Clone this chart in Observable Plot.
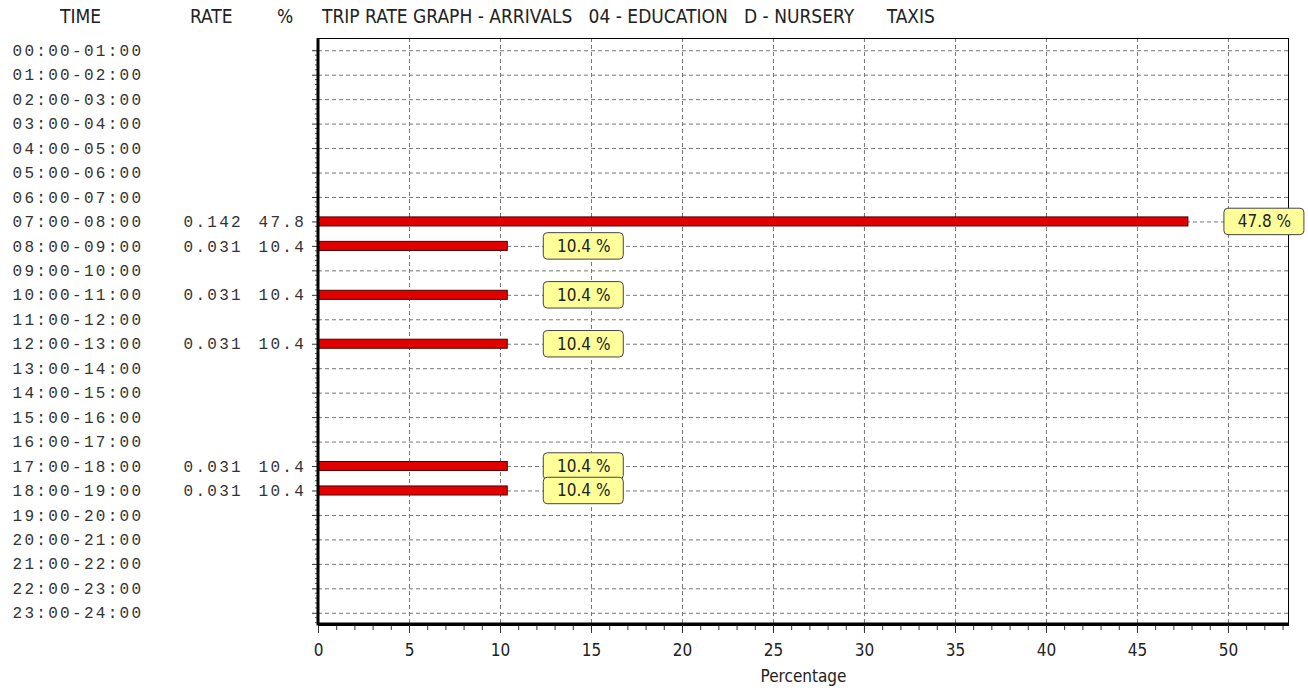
<!DOCTYPE html>
<html>
<head>
<meta charset="utf-8">
<script src="https://cdn.jsdelivr.net/npm/d3@7"></script>
<script src="https://cdn.jsdelivr.net/npm/@observablehq/plot@0.6"></script>
<style>
  html, body { margin: 0; padding: 0; background: #fff; }
  #wrap { width: 1308px; height: 693px; position: relative; overflow: hidden; }
  #hdr { position: relative; height: 32px; font-family: "Liberation Sans Narrow", "DejaVu Sans Condensed", sans-serif; font-size: 19px; color: #222; }
  #hdr span { position: absolute; top: 5px; white-space: pre; }
  g[font-family^="Liberation Mono"] text { letter-spacing: 2.3px; }
</style>
</head>
<body>
<div id="wrap">
  <div id="hdr">
    <span style="left:60px">TIME</span>
    <span style="left:190px">RATE</span>
    <span style="left:277px">%</span>
    <span style="left:322px">TRIP RATE GRAPH - ARRIVALS   04 - EDUCATION   D - NURSERY      TAXIS</span>
  </div>
  <div id="chart"></div>
</div>
<script>
const times = ["00:00-01:00","01:00-02:00","02:00-03:00","03:00-04:00","04:00-05:00","05:00-06:00",
  "06:00-07:00","07:00-08:00","08:00-09:00","09:00-10:00","10:00-11:00","11:00-12:00",
  "12:00-13:00","13:00-14:00","14:00-15:00","15:00-16:00","16:00-17:00","17:00-18:00",
  "18:00-19:00","19:00-20:00","20:00-21:00","21:00-22:00","22:00-23:00","23:00-24:00"];
const rates = [null,null,null,null,null,null,null,0.142,0.031,null,0.031,null,0.031,null,null,null,null,0.031,0.031,null,null,null,null,null];
const pcts  = [null,null,null,null,null,null,null,47.8,10.4,null,10.4,null,10.4,null,null,null,null,10.4,10.4,null,null,null,null,null];
const xMajorTicks = [0,5,10,15,20,25,30,35,40,45,50];
const xMinorTicks = d3.range(0, 54, 1);
const xMax = 53.3;

const rows = times.map((t, i) => ({time: t, rate: rates[i], pct: pcts[i]}));
const vals = rows.filter(d => d.pct != null);

const MONO = "Liberation Mono, DejaVu Sans Mono, monospace";
const NARROW = "Liberation Sans Narrow, DejaVu Sans Condensed, sans-serif";

// thick left/bottom axis lines plus small minor ticks on the left axis
const thickAxes = (index, scales, values, dim) => {
  const g = d3.create("svg:g");
  const l = dim.marginLeft, r = dim.width - dim.marginRight;
  const t = dim.marginTop, b = dim.height - dim.marginBottom;
  const y = scales.y;
  const step = y.step ? y.step() : (b - t) / times.length;
  let d = "";
  for (let i = 0; i < times.length; i++) {
    const c = y(times[i]) + y.bandwidth() / 2;
    for (let k = 1; k < 5; k++) {
      const yy = c + (k * step) / 5;
      if (yy < b - 2) d += `M${l - 3},${yy}H${l}`;
    }
  }
  g.append("path").attr("d", d).attr("stroke", "#555").attr("stroke-width", 1);
  g.append("path").attr("d", `M${l},${t}V${b - 1}H${r}`)
    .attr("fill", "none").attr("stroke", "#000").attr("stroke-width", 3);
  return g.node();
};

const chart = Plot.plot({
  width: 1308,
  height: 661,
  marginTop: 6,
  marginBottom: 68,
  marginLeft: 318,
  marginRight: 20,
  style: {fontFamily: NARROW, fontSize: "17px", color: "#222"},
  x: {domain: [0, xMax]},
  y: {type: "band", domain: times, range: [6, 593], paddingInner: 0, paddingOuter: 0, align: 0.5, round: false},
  marks: [
    Plot.gridX({ticks: xMajorTicks, stroke: "#777", strokeOpacity: 1, strokeDasharray: "4,3"}),
    Plot.gridY({stroke: "#777", strokeOpacity: 1, strokeDasharray: "4,3"}),
    Plot.frame({stroke: "#000", strokeWidth: 1}),
    Plot.axisX({ticks: xMinorTicks, tickSize: 5, tickFormat: () => "", label: null, stroke: "#333"}),
    Plot.axisX({ticks: xMajorTicks, tickSize: 8, tickPadding: 10, fontFamily: NARROW, fontSize: 17, fill: "#222",
      label: "Percentage", labelAnchor: "center", labelArrow: "none", labelOffset: 56, stroke: "#333"}),
    Plot.axisY({tickSize: 6, tickPadding: 300, textAnchor: "start", label: null, stroke: "#333",
      fontFamily: MONO, fontSize: 16, fill: "#333"}),
    Plot.barX(vals, {x: "pct", y: "time", fill: "#e00000", stroke: "#4a0000", strokeWidth: 1, insetTop: 7.7, insetBottom: 7.7}),
    thickAxes,
    Plot.text(rows.filter(d => d.rate != null), {y: "time", text: d => d.rate.toFixed(3), frameAnchor: "left", dx: -135, textAnchor: "start",
      fontFamily: MONO, fontSize: 16, fill: "#333"}),
    Plot.text(rows.filter(d => d.pct != null), {y: "time", text: d => d.pct.toFixed(1), frameAnchor: "left", dx: -60, textAnchor: "start",
      fontFamily: MONO, fontSize: 16, fill: "#333"}),
    Plot.barX(vals, {x1: "pct", x2: "pct", y: "time", dx: 76, insetLeft: -40, insetRight: -40, insetTop: -1, insetBottom: -1, rx: 4,
      fill: "#ffff99", stroke: "#444", strokeWidth: 1}),
    Plot.text(vals, {x: "pct", y: "time", dx: 76, dy: 0, text: d => `${d.pct.toFixed(1)} %`, textAnchor: "middle",
      fontFamily: NARROW, fontSize: 17, fill: "#222"})
  ]
});
document.getElementById("chart").appendChild(chart);
</script>
</body>
</html>
